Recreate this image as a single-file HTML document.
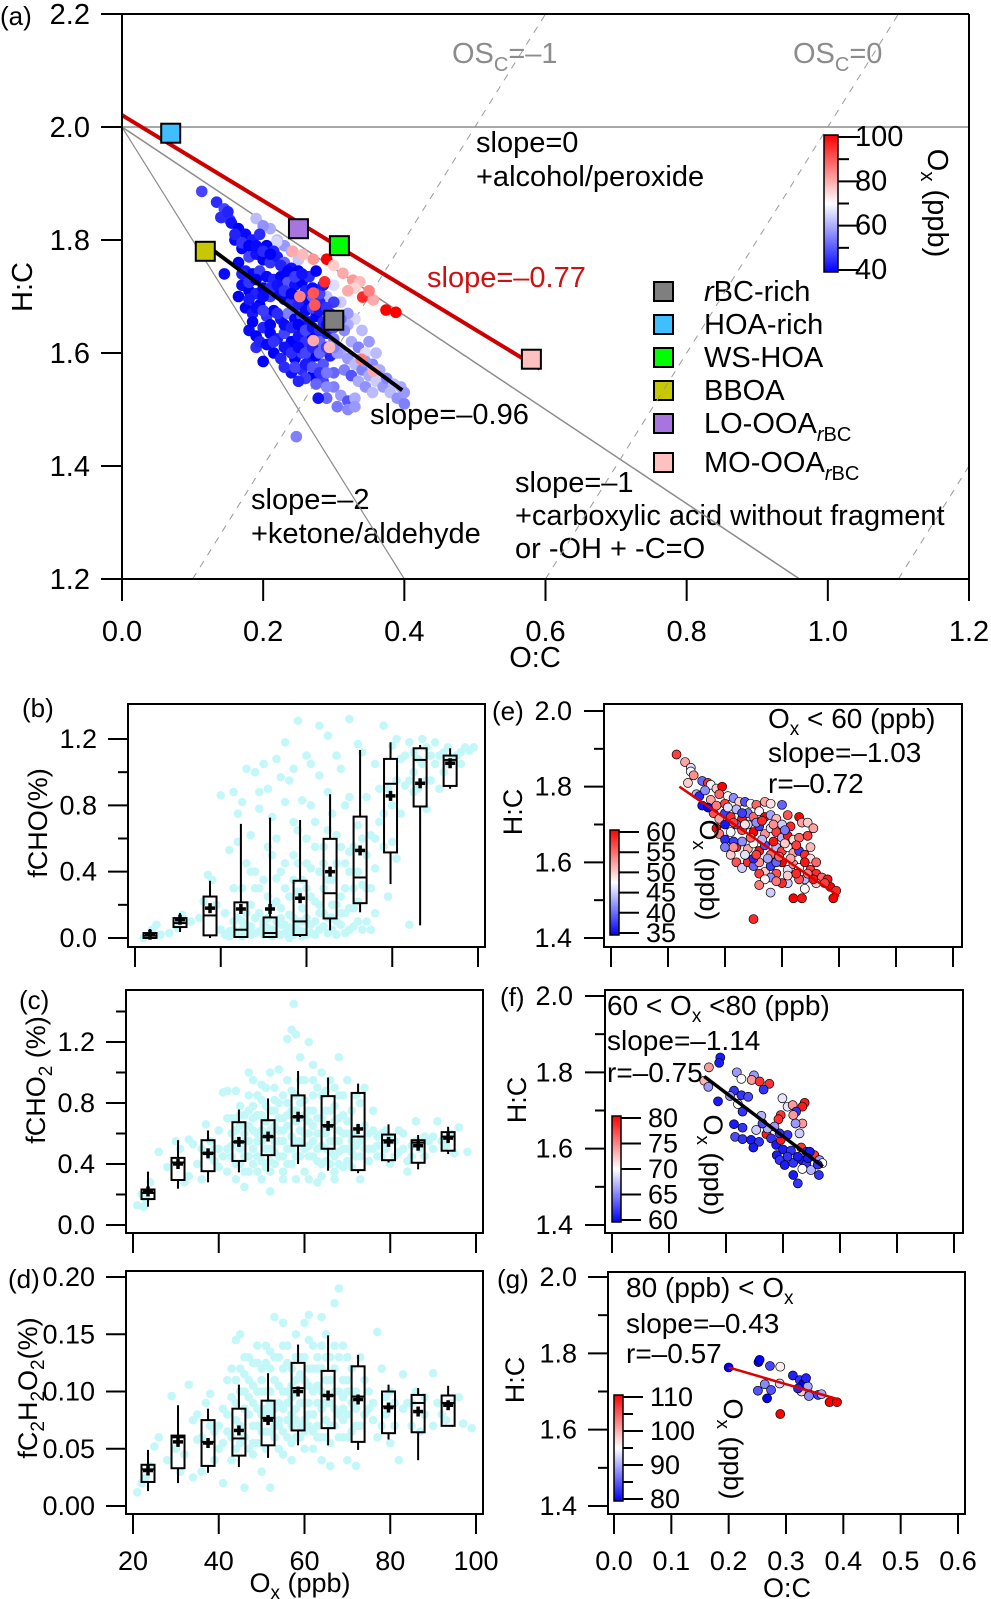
<!DOCTYPE html>
<html><head><meta charset="utf-8"><style>
html,body{margin:0;padding:0;background:#fff;}
svg{display:block;font-family:"Liberation Sans",Arial,sans-serif;}
</style></head><body>
<svg id="fig" xmlns="http://www.w3.org/2000/svg" width="991" height="1599" viewBox="0 0 991 1599">
<defs>
<linearGradient id="cgrad" x1="0" y1="1" x2="0" y2="0">
<stop offset="0" stop-color="#0000ff"/><stop offset="0.5" stop-color="#ffffff"/><stop offset="1" stop-color="#ff0000"/>
</linearGradient>
</defs>
<text x="0" y="25" font-size="26">(a)</text>
<text x="22" y="717" font-size="26">(b)</text>
<text x="19" y="1009" font-size="26">(c)</text>
<text x="8" y="1288" font-size="26">(d)</text>
<text x="492" y="720" font-size="26">(e)</text>
<text x="500" y="1006" font-size="26">(f)</text>
<text x="497" y="1288" font-size="26">(g)</text>

<text x="452" y="63" font-size="29" fill="#8c8c8c">OS<tspan font-size="20" dy="8">C</tspan><tspan dy="-8">=–1</tspan></text>
<text x="793" y="63" font-size="29" fill="#8c8c8c">OS<tspan font-size="20" dy="8">C</tspan><tspan dy="-8">=0</tspan></text>
<text x="476" y="152" font-size="29">slope=0</text>
<text x="476" y="186" font-size="29">+alcohol/peroxide</text>
<text x="427" y="287" font-size="29" fill="#d01010">slope=–0.77</text>
<text x="370" y="424" font-size="29">slope=–0.96</text>
<text x="515" y="492" font-size="29">slope=–1</text>
<text x="515" y="525" font-size="29">+carboxylic acid without fragment</text>
<text x="515" y="558" font-size="29">or -OH + -C=O</text>
<text x="251" y="509" font-size="29">slope=–2</text>
<text x="251" y="543" font-size="29">+ketone/aldehyde</text>
<text x="535" y="667" font-size="29" text-anchor="middle">O:C</text>
<text transform="translate(32,287) rotate(-90)" font-size="29" text-anchor="middle">H:C</text>

<g font-size="29">
<rect x="654" y="282" width="19" height="19" fill="#7f7f7f" stroke="#000" stroke-width="2"/>
<text x="704" y="301"><tspan font-style="italic">r</tspan>BC-rich</text>
<rect x="654" y="315" width="19" height="19" fill="#3fbfff" stroke="#000" stroke-width="2"/>
<text x="704" y="334">HOA-rich</text>
<rect x="654" y="348" width="19" height="19" fill="#00ff00" stroke="#000" stroke-width="2"/>
<text x="704" y="367">WS-HOA</text>
<rect x="654" y="381" width="19" height="19" fill="#c8c800" stroke="#000" stroke-width="2"/>
<text x="704" y="400">BBOA</text>
<rect x="654" y="414" width="19" height="19" fill="#a874e0" stroke="#000" stroke-width="2"/>
<text x="704" y="433">LO-OOA<tspan font-size="20" dy="8"><tspan font-style="italic">r</tspan>BC</tspan></text>
<rect x="654" y="453" width="19" height="19" fill="#ffc0c0" stroke="#000" stroke-width="2"/>
<text x="704" y="472">MO-OOA<tspan font-size="20" dy="8"><tspan font-style="italic">r</tspan>BC</tspan></text>
</g>

<text x="768" y="728" font-size="28">O<tspan font-size="19" dy="7">x</tspan><tspan dy="-7"> &lt; 60 (ppb)</tspan></text>
<text x="768" y="762" font-size="28">slope=–1.03</text>
<text x="768" y="793" font-size="28">r=–0.72</text>
<text x="607" y="1015" font-size="28">60 &lt; O<tspan font-size="19" dy="7">x</tspan><tspan dy="-7"> &lt;80 (ppb)</tspan></text>
<text x="607" y="1050" font-size="28">slope=–1.14</text>
<text x="607" y="1082" font-size="28">r=–0.75</text>
<text x="626" y="1297" font-size="28">80 (ppb) &lt; O<tspan font-size="19" dy="7">x</tspan></text>
<text x="626" y="1333" font-size="28">slope=–0.43</text>
<text x="626" y="1363" font-size="28">r=–0.57</text>

<text transform="translate(47,823) rotate(-90)" font-size="27" text-anchor="middle">fCHO(%)</text>
<text transform="translate(45,1080) rotate(-90)" font-size="27" text-anchor="middle">fCHO<tspan font-size="19" dy="7">2</tspan><tspan dy="-7"> (%)</tspan></text>
<text transform="translate(37,1388) rotate(-90)" font-size="27" text-anchor="middle">fC<tspan font-size="19" dy="7">2</tspan><tspan dy="-7">H</tspan><tspan font-size="19" dy="7">2</tspan><tspan dy="-7">O</tspan><tspan font-size="19" dy="7">2</tspan><tspan dy="-7">(%)</tspan></text>
<text x="300" y="1592" font-size="27" text-anchor="middle">O<tspan font-size="19" dy="7">x</tspan><tspan dy="-7"> (ppb)</tspan></text>
<text transform="translate(522,812) rotate(-90)" font-size="27" text-anchor="middle">H:C</text>
<text transform="translate(526,1100) rotate(-90)" font-size="27" text-anchor="middle">H:C</text>
<text transform="translate(524,1380) rotate(-90)" font-size="27" text-anchor="middle">H:C</text>
<text x="787" y="1597" font-size="27" text-anchor="middle">O:C</text>
</svg>
<script>
const NS='http://www.w3.org/2000/svg';
const svg=document.getElementById('fig');
function mk(tag,attrs,parent){const e=document.createElementNS(NS,tag);for(const k in attrs)e.setAttribute(k,attrs[k]);(parent||svg).appendChild(e);return e;}

// ---------------- DATA ----------------
const aPointsBlue=[[0.113,1.886,48],[0.134,1.867,45],[0.141,1.84,44],[0.153,1.835,46],[0.145,1.855,48],[0.14,1.84,45],[0.15,1.85,44],
[0.155,1.83,42],[0.165,1.82,40],[0.175,1.81,41],[0.185,1.8,43],[0.195,1.81,45],[0.205,1.79,40],[0.215,1.78,44],[0.16,1.8,41],[0.17,1.785,40],[0.18,1.77,48],[0.19,1.775,42],[0.2,1.765,40],[0.21,1.76,46],[0.22,1.77,43],[0.23,1.76,52],[0.24,1.75,42],[0.25,1.745,40],
[0.165,1.76,40],[0.175,1.745,43],[0.185,1.74,40],[0.195,1.745,47],[0.205,1.735,41],[0.215,1.73,44],[0.225,1.735,40],[0.235,1.725,50],[0.245,1.72,42],[0.255,1.725,40],[0.265,1.735,45],[0.275,1.745,40],
[0.17,1.72,41],[0.18,1.71,40],[0.19,1.705,44],[0.2,1.715,40],[0.21,1.7,48],[0.22,1.705,41],[0.23,1.695,40],[0.24,1.69,46],[0.25,1.7,42],[0.26,1.69,40],[0.27,1.7,52],[0.28,1.69,44],
[0.175,1.68,40],[0.185,1.67,43],[0.195,1.685,40],[0.205,1.665,46],[0.215,1.675,40],[0.225,1.66,42],[0.235,1.67,55],[0.245,1.66,40],[0.255,1.665,48],[0.265,1.655,42],[0.275,1.665,40],[0.285,1.655,45],[0.295,1.67,50],
[0.18,1.64,41],[0.19,1.63,40],[0.2,1.645,44],[0.21,1.635,40],[0.22,1.625,43],[0.23,1.635,48],[0.24,1.62,40],[0.25,1.63,42],[0.26,1.62,46],[0.27,1.63,40],[0.28,1.62,52],[0.29,1.635,44],[0.3,1.625,55],
[0.215,1.6,40],[0.225,1.59,44],[0.235,1.605,41],[0.245,1.59,40],[0.255,1.6,47],[0.265,1.585,42],[0.275,1.595,40],[0.285,1.58,50],[0.295,1.595,44],[0.305,1.6,58],
[0.24,1.565,42],[0.255,1.57,45],[0.27,1.56,40],[0.285,1.55,48],[0.3,1.565,52],[0.165,1.7,40],[0.145,1.74,41],[0.2,1.585,40],[0.19,1.61,45],[0.3,1.69,47],[0.31,1.66,53],[0.315,1.64,56],[0.278,1.52,42],[0.247,1.452,55]];
const aPointsBlue2=[[0.16,1.81,44],[0.17,1.795,46],[0.18,1.79,40],[0.19,1.79,41],[0.2,1.78,45],[0.21,1.775,40],[0.225,1.755,44],[0.235,1.745,40],[0.245,1.735,47],[0.255,1.74,42],[0.26,1.71,44],[0.27,1.715,41],[0.28,1.705,48],[0.285,1.72,43],
[0.17,1.74,44],[0.18,1.725,46],[0.19,1.73,40],[0.2,1.7,41],[0.21,1.715,45],[0.22,1.72,42],[0.23,1.71,46],[0.24,1.705,40],[0.25,1.685,44],[0.26,1.675,41],[0.27,1.68,48],[0.28,1.675,42],[0.29,1.68,46],
[0.18,1.695,43],[0.19,1.68,41],[0.2,1.675,47],[0.21,1.65,40],[0.22,1.67,45],[0.23,1.65,41],[0.24,1.645,44],[0.25,1.65,40],[0.26,1.64,48],[0.27,1.645,42],[0.28,1.64,45],[0.29,1.65,41],[0.3,1.645,50],
[0.185,1.655,40],[0.195,1.62,44],[0.205,1.615,41],[0.215,1.62,46],[0.23,1.61,42],[0.24,1.6,45],[0.25,1.61,41],[0.26,1.6,48],[0.27,1.61,44],[0.28,1.6,52],[0.29,1.61,47],[0.3,1.61,55],
[0.23,1.575,45],[0.245,1.575,48],[0.26,1.58,43],[0.27,1.575,50],[0.28,1.565,46],[0.29,1.565,54],[0.26,1.555,47],[0.275,1.545,52],[0.29,1.54,56],[0.25,1.55,44]];
const aPointsLight=[[0.31,1.6,60],[0.32,1.59,58],[0.33,1.58,62],[0.34,1.57,55],[0.35,1.56,60],[0.36,1.55,64],[0.37,1.54,58],[0.38,1.53,62],[0.39,1.52,57],[0.395,1.54,60],[0.4,1.51,55],[0.4,1.53,58],
[0.315,1.57,55],[0.325,1.56,50],[0.335,1.55,60],[0.345,1.54,57],[0.355,1.53,62],[0.3,1.54,55],[0.31,1.525,58],[0.32,1.515,50],[0.33,1.52,60],[0.29,1.52,52],[0.305,1.505,54],[0.32,1.5,56],[0.33,1.505,58],
[0.34,1.64,62],[0.33,1.66,65],[0.32,1.67,58],[0.325,1.62,60],[0.335,1.61,55],[0.345,1.6,66],[0.35,1.62,58],[0.36,1.6,62],[0.355,1.58,56],[0.29,1.7,62],[0.3,1.72,66],
[0.22,1.8,62],[0.23,1.79,58],[0.21,1.82,60],[0.19,1.838,62],[0.2,1.825,57],[0.219,1.797,65],[0.365,1.57,60],[0.375,1.555,56],[0.385,1.545,62],[0.345,1.585,58],[0.31,1.69,64],[0.32,1.65,60],[0.24,1.78,60],[0.25,1.765,63]];
const aPointsRed=[[0.242,1.78,80],[0.256,1.774,78],[0.271,1.766,82],[0.29,1.766,100],[0.313,1.741,80],[0.327,1.729,82],[0.337,1.726,78],[0.341,1.699,95],[0.356,1.694,80],[0.374,1.676,100],[0.388,1.672,100],
[0.271,1.706,90],[0.287,1.726,95],[0.273,1.685,90],[0.252,1.70,85],[0.271,1.622,80],[0.294,1.61,78],[0.339,1.589,85],[0.356,1.568,80],[0.33,1.715,75],[0.35,1.71,85],[0.3,1.755,76],[0.32,1.71,80]];
const factorNames=['HOA-rich','LO-OOA','WS-HOA','BBOA','rBC-rich','MO-OOA'];
const factorOC=[0.069,0.25,0.308,0.118,0.30,0.58];
const factorHC=[1.989,1.82,1.79,1.78,1.658,1.589];
const factorColors=['#3fbfff','#a874e0','#00ff00','#c8c800','#7f7f7f','#ffc0c0'];
const aRedFit=[0,2.021,0.592,1.572];
const aBlackFit=[0.118,1.792,0.397,1.534];

const binOx=[23.5,30.5,37.5,44.7,51.5,58.5,65.5,72.5,79.6,86.5,93.5];
const bQ1=[0,0.066,0.016,0.006,0.006,0.018,0.118,0.21,0.516,0.793,0.917];
const bQ3=[0.03,0.12,0.25,0.215,0.124,0.345,0.598,0.732,1.08,1.144,1.10];
const bMed=[0.014,0.09,0.136,0.05,0.03,0.10,0.27,0.365,0.93,1.074,1.074];
const bMean=[0.02,0.11,0.18,0.175,0.175,0.24,0.40,0.528,0.857,0.933,1.054];
const bLo=[0,0.036,0,0,0,0.006,0.046,0.155,0.325,0.076,0.90];
const bHi=[0.054,0.15,0.345,0.688,0.726,0.712,0.867,1.134,1.18,1.164,1.144];
const cQ1=[0.17,0.295,0.353,0.42,0.458,0.52,0.50,0.36,0.425,0.408,0.487];
const cQ3=[0.233,0.44,0.556,0.674,0.687,0.85,0.845,0.866,0.593,0.556,0.609];
const cMed=[0.21,0.41,0.47,0.545,0.58,0.71,0.655,0.58,0.556,0.54,0.58];
const cMean=[0.22,0.40,0.47,0.545,0.58,0.71,0.65,0.63,0.545,0.52,0.57];
const cLo=[0.12,0.238,0.28,0.345,0.35,0.40,0.356,0.34,0.41,0.365,0.465];
const cHi=[0.35,0.556,0.62,0.757,0.83,1.01,0.967,0.927,0.66,0.59,0.644];
const dQ1=[0.021,0.033,0.035,0.044,0.053,0.066,0.068,0.056,0.0636,0.0644,0.070];
const dQ3=[0.036,0.0615,0.075,0.085,0.092,0.125,0.118,0.122,0.10,0.097,0.0965];
const dMed=[0.032,0.06,0.056,0.059,0.077,0.103,0.0965,0.0956,0.087,0.090,0.090];
const dMean=[0.031,0.056,0.055,0.066,0.075,0.10,0.0965,0.093,0.086,0.0825,0.088];
const dLo=[0.013,0.02,0.029,0.034,0.042,0.053,0.053,0.049,0.058,0.040,0.07];
const dHi=[0.049,0.088,0.085,0.106,0.116,0.141,0.149,0.132,0.106,0.103,0.105];

const bScatter=[[22,0.0],[24,0.05],[25,0.08],[26,0.02],[28,0.03],[30,0.06],[31,0.14],[33,0.1],[35,0.12],[36,0.22],[37,0.38],[38,0.35],[39,0.2],[40,0.05],[40,0.86],[41,0.15],[42,0.53],[43,0.88],[43,0.3],[44,0.75],[44,0.58],[45,0.82],[45,0.1],[46,1.02],[46,0.45],[47,0.62],[47,0.02],[48,1.0],[48,0.3],[49,0.78],[49,0.88],[50,1.05],[50,0.1],[51,0.9],[51,0.55],[52,0.73],[52,0.2],[53,1.08],[53,0.36],[54,0.97],[54,0.02],[55,1.18],[55,0.82],[55,0.45],[56,0.95],[56,0.06],[57,1.02],[57,0.7],[58,1.31],[58,0.28],[59,0.83],[59,0.01],[60,1.1],[60,0.6],[61,1.05],[61,0.42],[62,0.7],[62,0.02],[63,1.28],[63,0.98],[64,0.55],[64,0.15],[65,1.22],[65,0.88],[66,0.35],[66,0.05],[67,1.1],[67,0.62],[68,1.02],[68,0.25],[69,0.8],[69,0.45],[70,1.32],[70,0.52],[71,0.18],[72,1.17],[72,0.68],[73,1.12],[73,0.32],[74,0.85],[74,0.1],[75,0.62],[76,1.05],[76,0.42],[77,0.9],[78,1.28],[78,0.75],[79,0.25],[80,1.16],[80,0.58],[81,1.2],[81,0.48],[82,1.08],[83,0.92],[84,1.18],[84,0.08],[85,1.0],[85,0.88],[86,1.08],[87,1.2],[88,0.95],[88,0.78],[89,1.1],[90,1.18],[91,0.9],[92,1.12],[93,1.05],[95,1.1],[96,1.12],[98,1.13],[99,1.15],
[41,0.02],[43,0.05],[44,0.12],[45,0.01],[46,0.08],[47,0.2],[48,0.03],[49,0.15],[50,0.02],[51,0.06],[52,0.01],[53,0.1],[54,0.18],[55,0.03],[56,0.25],[57,0.02],[57,0.12],[58,0.05],[59,0.18],[60,0.02],[60,0.3],[61,0.08],[62,0.22],[63,0.05],[64,0.3],[65,0.12],[66,0.2],[67,0.02],[68,0.08],[69,0.15],[70,0.05],[71,0.3],[72,0.1],[75,0.05],[48,0.4],[52,0.5],[58,0.65],[62,0.55],[66,0.75],[70,0.85],[42,0.01],[50,0.04],[54,0.08],[59,0.1],[63,0.15],[67,0.2],[44,0.03],[56,0.0]];
const bScatter2=[[42,0.04],[43,0.1],[45,0.05],[46,0.15],[47,0.07],[48,0.12],[49,0.04],[50,0.08],[51,0.12],[52,0.05],[53,0.03],[54,0.12],[55,0.08],[56,0.14],[57,0.06],[58,0.1],[59,0.04],[60,0.12],[61,0.03],[62,0.1],[63,0.2],[64,0.07],[65,0.03],[66,0.12],[67,0.1],[68,0.15],[69,0.03],[70,0.18],[71,0.07],[72,0.22],[73,0.05],[74,0.3],[76,0.15],
[45,0.3],[47,0.4],[49,0.3],[50,0.35],[51,0.25],[53,0.22],[54,0.4],[55,0.3],[57,0.35],[58,0.45],[59,0.35],[60,0.45],[61,0.25],[63,0.4],[64,0.45],[65,0.35],[67,0.45],[68,0.55],[69,0.3],[70,0.4],[71,0.55],[72,0.4],[73,0.6],[74,0.5],[75,0.3],[76,0.6],[77,0.7],[78,0.55],[79,0.9],[80,0.8],[81,0.95],[82,0.75],[83,1.1],[84,0.95],[86,0.9],[87,1.05],[89,0.95],[90,1.05],[91,1.1],[93,1.15],[94,1.08],[96,1.05],[97,1.15],[92,1.0],[85,1.12],[88,1.15],[57,0.5],[53,0.6],[61,0.8],[65,0.65]];
const cScatter=[[21,0.13],[22,0.2],[23,0.17],[22.5,0.12],[24,0.28],[26,0.48],[28,0.38],[30,0.55],[31,0.5],[32,0.28],[33,0.56],[34,0.53],[33,0.32],[35,0.4],[36,0.3],[37,0.66],[38,0.55],[39,0.5],[40,0.62],[40,0.38],[41,0.87],[42,0.88],[43,0.7],[43,0.45],[44,0.88],[44,0.3],[45,0.78],[46,0.55],[46,0.25],[47,0.65],[47,1.0],[48,0.95],[48,0.4],[49,0.6],[49,0.85],[50,0.72],[50,0.3],[51,0.9],[51,0.5],[52,0.22],[52,1.0],[53,0.65],[53,0.4],[54,0.8],[54,1.02],[55,0.55],[55,0.3],[56,0.95],[56,1.22],[57,1.28],[57.5,1.45],[58,1.25],[57,0.4],[58,0.85],[59,1.1],[59,0.55],[60,0.95],[60,0.35],[61,1.2],[61,0.75],[62,1.05],[62,0.45],[63,0.9],[63,0.28],[64,0.85],[64,1.0],[65,0.6],[66,0.95],[66,0.4],[67,0.78],[67,0.3],[68,1.1],[68,0.55],[69,0.85],[69,0.38],[70,0.95],[70,0.68],[71,0.48],[72,0.6],[73,0.3],[73,0.8],[74,0.9],[75,0.5],[75,0.42],[76,0.75],[77,0.58],[78,0.52],[78,0.45],[79,0.62],[80,0.4],[81,0.55],[82,0.48],[83,0.6],[84,0.42],[84,0.35],[85,0.52],[86,0.68],[88,0.45],[88,0.58],[90,0.5],[91,0.68],[92,0.55],[94,0.6],[95,0.47],[96,0.64],[98,0.48],
[42,0.5],[43,0.6],[44,0.55],[45,0.4],[45,0.65],[46,0.45],[46,0.72],[47,0.35],[47,0.55],[48,0.62],[48,0.78],[49,0.45],[50,0.55],[50,0.82],[51,0.38],[51,0.68],[52,0.5],[52,0.75],[53,0.55],[53,0.9],[54,0.45],[54,0.62],[55,0.7],[55,0.85],[56,0.5],[56,0.65],[57,0.58],[57,0.75],[58,0.45],[58,0.68],[59,0.62],[59,0.8],[60,0.5],[60,0.72],[61,0.45],[61,0.6],[62,0.65],[62,0.85],[63,0.5],[63,0.7],[64,0.4],[64,0.6],[65,0.75],[65,0.5],[66,0.65],[66,0.55],[67,0.45],[67,0.9],[68,0.7],[68,0.4],[69,0.6],[70,0.5],[71,0.75],[71,0.38],[72,0.45],[72,0.85],[73,0.55],[74,0.65],[76,0.62],[77,0.45],[79,0.5],[80,0.58],[82,0.62],[85,0.45],[87,0.5],[89,0.55],
[44,0.7],[47,0.85],[50,0.92],[53,0.75],[56,0.8],[59,0.95],[62,0.95],[65,0.88],[68,0.85],[71,0.6],[49,0.35],[55,0.35],[61,0.3],[67,0.35],[58,0.3],[64,0.32],[52,0.35]];
const cScatter2=[[41,0.45],[42,0.35],[42,0.7],[43,0.52],[44,0.4],[44,0.62],[45,0.5],[45,0.72],[46,0.35],[46,0.6],[47,0.45],[47,0.75],[48,0.5],[48,0.7],[49,0.55],[49,0.72],[50,0.42],[50,0.62],[51,0.58],[51,0.78],[52,0.42],[52,0.62],[53,0.48],[53,0.82],[54,0.55],[54,0.7],[55,0.45],[55,0.62],[56,0.4],[56,0.72],[57,0.5],[57,0.88],[58,0.55],[58,0.75],[59,0.45],[59,0.7],[60,0.6],[60,0.82],[61,0.52],[61,0.68],[62,0.55],[62,0.75],[63,0.42],[63,0.6],[64,0.52],[64,0.7],[65,0.42],[65,0.65],[66,0.48],[66,0.75],[67,0.55],[67,0.68],[68,0.48],[68,0.62],[69,0.5],[69,0.72],[70,0.42],[70,0.6],[71,0.55],[72,0.52],[73,0.45],[74,0.5],[75,0.6],[76,0.5],[77,0.52],[78,0.6],[81,0.45],[83,0.5],[86,0.55],[90,0.58],[93,0.52],[40,0.5],[39,0.42],[38,0.45],[36,0.5]];
const dScatter=[[21,0.012],[22,0.02],[23,0.025],[24,0.035],[25,0.052],[26,0.06],[29,0.096],[31,0.03],[32,0.045],[33,0.106],[34,0.025],[34,0.075],[35,0.058],[36,0.03],[37,0.09],[38,0.098],[39,0.065],[39,0.04],[40,0.05],[41,0.085],[41,0.02],[42,0.11],[42,0.065],[43,0.12],[43,0.04],[44,0.145],[44,0.075],[45,0.15],[45,0.055],[46,0.13],[46,0.016],[47,0.08],[47,0.11],[48,0.125],[48,0.045],[49,0.14],[49,0.07],[50,0.1],[50,0.03],[51,0.14],[51,0.085],[52,0.016],[52,0.12],[53,0.165],[53,0.06],[54,0.13],[54,0.09],[55,0.16],[55,0.045],[56,0.14],[56,0.075],[57,0.12],[57,0.04],[58,0.15],[58,0.085],[59,0.13],[59,0.06],[60,0.16],[60,0.11],[61,0.167],[61,0.07],[62,0.14],[62,0.05],[63,0.12],[63,0.09],[64,0.165],[64,0.04],[65,0.15],[65,0.075],[66,0.13],[66,0.035],[67,0.177],[67,0.1],[68,0.19],[68,0.06],[69,0.14],[69,0.085],[70,0.13],[70,0.04],[71,0.12],[71,0.065],[72,0.1],[72,0.035],[73,0.13],[74,0.11],[75,0.085],[76,0.075],[77,0.152],[77,0.06],[78,0.12],[79,0.08],[80,0.1],[80,0.055],[81,0.07],[82,0.04],[83,0.115],[84,0.09],[85,0.07],[86,0.1],[87,0.065],[88,0.095],[90,0.116],[90,0.07],[92,0.08],[94,0.09],[96,0.095],[97,0.072],[99,0.068],
[44,0.09],[45,0.1],[46,0.06],[47,0.095],[48,0.07],[49,0.1],[50,0.065],[50,0.12],[51,0.05],[52,0.08],[52,0.1],[53,0.07],[53,0.11],[54,0.05],[55,0.1],[55,0.12],[56,0.06],[56,0.1],[57,0.08],[57,0.105],[58,0.06],[58,0.11],[59,0.09],[60,0.075],[60,0.13],[61,0.09],[61,0.12],[62,0.08],[62,0.1],[63,0.07],[64,0.1],[64,0.12],[65,0.06],[65,0.11],[66,0.09],[67,0.07],[67,0.12],[68,0.1],[69,0.11],[70,0.08],[71,0.09],[72,0.07],
[46,0.115],[49,0.125],[52,0.135],[55,0.14],[58,0.13],[61,0.145],[64,0.14],[67,0.14],[70,0.11],[48,0.055],[51,0.065],[54,0.07],[57,0.055],[60,0.05],[63,0.06],[66,0.055],[69,0.06]];
const dScatter2=[[40,0.07],[41,0.055],[42,0.08],[43,0.095],[43,0.06],[44,0.05],[44,0.11],[45,0.07],[45,0.12],[46,0.085],[46,0.1],[47,0.05],[47,0.13],[48,0.09],[48,0.105],[49,0.055],[49,0.085],[50,0.08],[50,0.11],[51,0.1],[51,0.125],[52,0.065],[52,0.09],[53,0.085],[53,0.13],[54,0.105],[54,0.075],[55,0.065],[55,0.085],[56,0.09],[56,0.125],[57,0.07],[57,0.095],[58,0.1],[58,0.075],[59,0.07],[59,0.115],[60,0.09],[60,0.065],[61,0.105],[61,0.08],[62,0.065],[62,0.12],[63,0.105],[63,0.13],[64,0.085],[64,0.06],[65,0.09],[65,0.13],[66,0.07],[66,0.11],[67,0.085],[68,0.08],[68,0.13],[69,0.075],[69,0.095],[70,0.1],[70,0.06],[71,0.1],[72,0.085],[73,0.07],[74,0.08],[75,0.1],[76,0.09],[78,0.07],[79,0.095],[81,0.09],[83,0.085],[85,0.09],[88,0.08],[91,0.09],[93,0.075],[38,0.07],[36,0.06],[35,0.08],[30,0.05],[28,0.04]];

const ePoints=[[0.115,1.885,57],[0.13,1.865,52],[0.14,1.85,46],[0.14,1.84,47],[0.145,1.83,53],[0.135,1.81,50],[0.16,1.815,40],[0.17,1.81,58],[0.175,1.805,47],[0.15,1.78,44],[0.155,1.775,37],[0.165,1.79,42],[0.185,1.795,50],[0.195,1.8,60],[0.19,1.78,55],[0.205,1.775,48],[0.215,1.77,42],[0.16,1.75,36],[0.175,1.765,52],[0.2,1.755,57],[0.225,1.76,50],[0.235,1.76,39],[0.245,1.755,47],[0.255,1.752,55],[0.27,1.76,52],[0.28,1.755,49],[0.3,1.752,40],[0.31,1.725,56],[0.33,1.72,60],[0.335,1.705,52],[0.345,1.705,50],
[0.18,1.73,56],[0.19,1.715,52],[0.2,1.73,38],[0.21,1.72,58],[0.22,1.74,44],[0.23,1.715,59],[0.24,1.73,41],[0.25,1.72,55],[0.26,1.735,47],[0.27,1.72,60],[0.28,1.725,43],[0.29,1.715,51],[0.3,1.7,45],[0.315,1.695,58],
[0.185,1.69,60],[0.19,1.675,54],[0.2,1.66,37],[0.21,1.68,47],[0.22,1.7,40],[0.23,1.685,56],[0.24,1.7,45],[0.25,1.68,60],[0.26,1.695,38],[0.27,1.675,53],[0.28,1.69,46],[0.29,1.68,57],[0.3,1.665,44],[0.31,1.67,59],[0.32,1.66,49],[0.33,1.665,55],
[0.2,1.64,41],[0.21,1.62,50],[0.22,1.64,58],[0.23,1.655,42],[0.24,1.635,52],[0.25,1.65,48],[0.26,1.63,59],[0.27,1.645,39],[0.28,1.62,55],[0.29,1.64,44],[0.3,1.63,57],[0.31,1.64,47],[0.32,1.625,52],[0.33,1.63,38],[0.34,1.62,58],[0.35,1.61,49],
[0.22,1.6,56],[0.23,1.585,45],[0.24,1.6,58],[0.25,1.59,40],[0.26,1.6,53],[0.27,1.575,50],[0.28,1.59,38],[0.29,1.57,56],[0.3,1.6,60],[0.31,1.58,46],[0.32,1.595,53],[0.33,1.585,48],[0.34,1.6,59],[0.35,1.58,57],[0.36,1.57,58],[0.37,1.56,55],[0.38,1.555,59],[0.385,1.535,60],[0.395,1.525,58],[0.39,1.505,60],[0.375,1.545,57],[0.36,1.545,50],[0.34,1.555,44],[0.33,1.555,56],[0.31,1.545,45],[0.3,1.545,58],[0.28,1.56,42],[0.26,1.57,57],[0.27,1.555,48],[0.32,1.505,60],[0.335,1.505,59],[0.34,1.53,48],[0.28,1.52,45],[0.25,1.45,58],[0.26,1.54,54],[0.35,1.64,51],[0.36,1.6,55],[0.345,1.67,57],[0.355,1.69,52],[0.2,1.7,36],[0.23,1.73,38],[0.17,1.745,35],[0.215,1.655,38],[0.25,1.61,37],[0.29,1.6,40],
[0.185,1.75,54],[0.205,1.745,46],[0.215,1.705,57],[0.235,1.7,49],[0.255,1.705,42],[0.265,1.71,58],[0.285,1.7,53],[0.305,1.685,41],[0.245,1.665,55],[0.265,1.66,44],[0.285,1.655,59],[0.305,1.65,50],[0.325,1.645,57],[0.215,1.64,53],[0.235,1.62,46],[0.255,1.62,57],[0.275,1.61,43],[0.295,1.615,55],[0.315,1.61,52],[0.325,1.57,58],[0.345,1.57,54],[0.355,1.555,59],[0.29,1.55,54],[0.31,1.565,50]];
const eFit=[0.12,1.80,0.40,1.51];
const fPoints=[[0.17,1.813,74],[0.19,1.839,61],[0.188,1.825,61],[0.162,1.778,73],[0.169,1.762,66],[0.219,1.80,66],[0.227,1.783,70],[0.249,1.792,66],[0.245,1.78,74],[0.259,1.776,78],[0.276,1.77,78],[0.266,1.755,62],[0.214,1.752,62],[0.227,1.74,62],[0.239,1.736,63],[0.207,1.738,66],[0.186,1.724,61],[0.221,1.717,70],[0.229,1.697,62],[0.262,1.686,67],[0.299,1.732,69],[0.308,1.71,69],[0.317,1.714,74],[0.338,1.72,79],[0.334,1.71,79],[0.323,1.697,62],[0.318,1.688,74],[0.296,1.688,78],[0.292,1.677,78],[0.334,1.666,74],[0.322,1.666,66],[0.214,1.664,61],[0.229,1.655,62],[0.216,1.631,63],[0.229,1.625,62],[0.244,1.623,61],[0.258,1.618,62],[0.248,1.603,61],[0.271,1.638,79],[0.279,1.627,62],[0.288,1.61,61],[0.296,1.623,79],[0.308,1.636,62],[0.30,1.598,61],[0.314,1.595,62],[0.332,1.603,78],[0.341,1.592,61],[0.355,1.583,78],[0.364,1.57,66],[0.369,1.562,70],[0.289,1.583,61],[0.294,1.57,62],[0.303,1.557,61],[0.318,1.563,62],[0.334,1.569,61],[0.341,1.56,62],[0.349,1.544,67],[0.363,1.531,62],[0.318,1.531,61],[0.326,1.509,62],[0.334,1.547,70],[0.285,1.658,66],[0.273,1.653,67],[0.253,1.649,68],[0.264,1.666,63],[0.294,1.64,62],[0.329,1.64,68],[0.347,1.592,61],[0.361,1.558,62],[0.344,1.575,61],[0.308,1.579,62],[0.326,1.579,61]];
const fFit=[0.162,1.789,0.37,1.553];
const gPoints=[[0.20,1.763,80],[0.252,1.777,80],[0.254,1.783,80],[0.272,1.767,84],[0.29,1.765,96],[0.312,1.742,82],[0.324,1.73,83],[0.333,1.726,82],[0.33,1.72,80],[0.338,1.713,90],[0.263,1.719,88],[0.251,1.702,85],[0.274,1.704,85],[0.267,1.682,80],[0.289,1.721,93],[0.327,1.70,98],[0.341,1.693,99],[0.34,1.688,88],[0.356,1.691,84],[0.362,1.693,90],[0.376,1.672,110],[0.389,1.672,110],[0.29,1.641,110],[0.321,1.708,82],[0.335,1.735,82]];
const gFit=[0.20,1.763,0.39,1.68];

const aXTicks=['0.0','0.2','0.4','0.6','0.8','1.0','1.2'];
const aYTicks=['1.2','1.4','1.6','1.8','2.0','2.2'];
const bYTicks=['0.0','0.4','0.8','1.2'];
const cYTicks=['0.0','0.4','0.8','1.2'];
const dYTicks=['0.00','0.05','0.10','0.15','0.20'];
const oxTicks=['20','40','60','80','100'];
const hcTicks=['1.4','1.6','1.8','2.0'];
const ocTicks=['0.0','0.1','0.2','0.3','0.4','0.5','0.6'];
const aCbarTicks=['40','60','80','100'];
const eCbarTicks=['35','40','45','50','55','60'];
const fCbarTicks=['60','65','70','75','80'];
const gCbarTicks=['80','90','100','110'];

// ---------------- helpers ----------------
function lin(d0,d1,p0,p1){return v=>p0+(v-d0)*(p1-p0)/(d1-d0);}
function cmap(v,lo,hi){let t=Math.max(0,Math.min(1,(v-lo)/(hi-lo)));let r,g,b;
 if(t<0.5){const s=t/0.5;r=Math.round(255*s);g=r;b=255;}else{const s=(t-0.5)/0.5;r=255;g=Math.round(255*(1-s));b=g;}
 return `rgb(${r},${g},${b})`;}
function line(x1,y1,x2,y2,st,w,name,dash){const e=mk('line',{x1,y1,x2,y2,stroke:st,'stroke-width':w});if(dash)e.setAttribute('stroke-dasharray',dash);
 
 
 return e;}
function txt(x,y,s,size,anchor,name){const e=mk('text',{x,y,'font-size':size,'text-anchor':anchor});e.textContent=s;
 
 
 return e;}
function frame(x0,y0,x1,y1,name){const e=mk('rect',{x:x0,y:y0,width:x1-x0,height:y1-y0,fill:'none',stroke:'#000','stroke-width':2});
 
 }

// ---------------- PANEL A ----------------
const xA=lin(0,1.2,122,969), yA=lin(1.2,2.2,579,14);
line(xA(0),yA(2.0),xA(1.2),yA(2.0),'#8c8c8c',1.5,'slope-0-line');
line(xA(0),yA(2.0),xA(0.96),yA(1.2),'#8c8c8c',1.5,'slope-minus1-line');
line(xA(0),yA(2.0),xA(0.4),yA(1.2),'#8c8c8c',1.2,'slope-minus2-line');
line(xA(0.1),yA(1.2),xA(0.6),yA(2.2),'#9a9a9a',1,'osc-minus1-dashed-line','7,7');
line(xA(0.6),yA(1.2),xA(1.1),yA(2.2),'#9a9a9a',1,'osc-0-dashed-line','7,7');
line(xA(1.1),yA(1.2),xA(1.2),yA(1.4),'#9a9a9a',1,'osc-1-dashed-line','7,7');
[aPointsLight,aPointsBlue,aPointsBlue2,aPointsRed].forEach(arr=>arr.forEach(p=>{
 const c=mk('circle',{cx:xA(p[0]),cy:yA(p[1]),r:5.8,fill:cmap(p[2],40,100)});
 
 
}));
line(xA(aRedFit[0]),yA(aRedFit[1]),xA(aRedFit[2]),yA(aRedFit[3]),'#cc0000',4,'fit-line-red');
line(xA(aBlackFit[0]),yA(aBlackFit[1]),xA(aBlackFit[2]),yA(aBlackFit[3]),'#000',4,'fit-line-black');
factorOC.forEach((oc,i)=>{const r=mk('rect',{x:xA(oc)-9.5,y:yA(factorHC[i])-9.5,width:19,height:19,fill:factorColors[i],stroke:'#000','stroke-width':2});
 
 });
line(122,14,969,14,'#000',2,'a-top-border');
line(969,14,969,579,'#000',2,'a-right-border');
line(122,14,122,579,'#000',2,'a-y-axis');
line(122,579,969,579,'#000',2,'a-x-axis');
aXTicks.forEach(t=>{const x=xA(+t);line(x,579,x,601,'#000',2,'a-x-tick');txt(x,641,t,29,'middle','a-x-tick-label');});
aYTicks.forEach(t=>{const y=yA(+t);line(101,y,122,y,'#000',2,'a-y-tick');txt(90,y+10,t,29,'end','a-y-tick-label');});
function cbar(x0,x1,y0,y1,lo,hi,ticks,minor,fs,name,tickLen,lblX){
 const r=mk('rect',{x:x0,y:y0,width:x1-x0,height:y1-y0,fill:'url(#cgrad)',stroke:'#000','stroke-width':1.5});
 
 
 const ys=lin(lo,hi,y1-2,y0+2);
 ticks.forEach(t=>{const y=ys(+t);line(x1,y,x1+tickLen,y,'#000',2,name+'-tick');txt(lblX,y+9,t,fs,'start',name+'-label');});
 minor.forEach(t=>{const y=ys(t);line(x1,y,x1+tickLen*0.5,y,'#000',2,name+'-minor-tick');});
}
cbar(824,838,135,272,40,100,aCbarTicks,[50,70,90],29,'a-colorbar',22,855);
function oxTitle(cx,cy,fs,name){const e=mk('text',{transform:`translate(${cx},${cy}) rotate(90)`,'font-size':fs,'text-anchor':'middle'});
 e.innerHTML='O<tspan font-size="'+(fs*0.7)+'" dy="7">x</tspan><tspan dy="-7"> (ppb)</tspan>';
 
 }
oxTitle(928,203,29,'a-colorbar-title');

// ---------------- PANELS B,C,D ----------------
function boxPanel(P){
 const xs=lin(20,100,P.x20,P.x100), ys=lin(P.v0,P.v1,P.y0,P.y1);
 P.scatter.forEach(p=>{const c=mk('circle',{cx:xs(p[0]),cy:ys(p[1]),r:4.3,fill:'#c4f8f8'});
  
  });
 binOx.forEach((ox,i)=>{const x=xs(ox),hw=6.5;
  line(x,ys(P.hi[i]),x,ys(P.q3[i]),'#000',2,'whisker-upper');
  line(x,ys(P.q1[i]),x,ys(P.lo[i]),'#000',2,'whisker-lower');
  const b=mk('rect',{x:x-hw,y:ys(P.q3[i]),width:2*hw,height:Math.max(1,ys(P.q1[i])-ys(P.q3[i])),fill:'none',stroke:'#000','stroke-width':2});
  
  
  line(x-hw,ys(P.med[i]),x+hw,ys(P.med[i]),'#000',2,'median-line');
  const my=ys(P.mean[i]);
  line(x-5,my,x+5,my,'#000',3.5,'mean-marker');
  line(x,my-5,x,my+5,'#000',3.5,'mean-marker');
 });
 frame(P.bx0,P.by0,P.bx1,P.by1,P.name+'-frame');
 oxTicks.forEach(t=>{const x=xs(+t);line(x,P.by1,x,P.by1+20,'#000',2,P.name+'-x-tick');
  if(P.xlabels)txt(x,1570,t,27,'middle',P.name+'-x-tick-label');});
 P.yticks.forEach(t=>{const y=ys(+t);line(P.bx0-20,y,P.bx0,y,'#000',2,P.name+'-y-tick');txt(P.lblX,y+9,t,27,'end',P.name+'-y-tick-label');});
 P.minor.forEach(v=>{const y=ys(v);line(P.bx0-10,y,P.bx0,y,'#000',2,P.name+'-y-minor-tick');});
}
boxPanel({name:'b',x20:135,x100:478,v0:0,v1:1.2,y0:938,y1:739,bx0:128,bx1:485,by0:704,by1:947,scatter:bScatter.concat(bScatter2),q1:bQ1,q3:bQ3,med:bMed,mean:bMean,lo:bLo,hi:bHi,yticks:bYTicks,minor:[0.2,0.6,1.0],lblX:97,xlabels:false});
boxPanel({name:'c',x20:133,x100:476,v0:0,v1:1.2,y0:1225,y1:1042,bx0:126,bx1:483,by0:990,by1:1233,scatter:cScatter.concat(cScatter2),q1:cQ1,q3:cQ3,med:cMed,mean:cMean,lo:cLo,hi:cHi,yticks:cYTicks,minor:[0.2,0.6,1.0,1.4],lblX:95,xlabels:false});
boxPanel({name:'d',x20:133,x100:476,v0:0,v1:0.2,y0:1506,y1:1277,bx0:126,bx1:483,by0:1271,by1:1514,scatter:dScatter.concat(dScatter2),q1:dQ1,q3:dQ3,med:dMed,mean:dMean,lo:dLo,hi:dHi,yticks:dYTicks,minor:[],lblX:95,xlabels:true});

// ---------------- PANELS E,F,G ----------------
function vkPanel(P){
 const xs=lin(0,0.6,P.x0,P.x6), ys=lin(1.4,2.0,P.y14,P.y20);
 P.points.forEach(p=>{const c=mk('circle',{cx:xs(p[0]),cy:ys(p[1]),r:4.5,fill:cmap(p[2],P.lo,P.hi),stroke:'#000','stroke-width':0.7});
  
  });
 line(xs(P.fit[0]),ys(P.fit[1]),xs(P.fit[2]),ys(P.fit[3]),P.fitColor,P.fitW,P.name+'-fit-line');
 frame(P.bx0,P.by0,P.bx1,P.by1,P.name+'-frame');
 ocTicks.forEach(t=>{const x=xs(+t);line(x,P.by1,x,P.by1+20,'#000',2,P.name+'-x-tick');
  if(P.xlabels)txt(x,1570,t,27,'middle',P.name+'-x-tick-label');});
 hcTicks.forEach(t=>{const y=ys(+t);line(P.bx0-20,y,P.bx0,y,'#000',2,P.name+'-y-tick');txt(P.lblX,y+9,t,27,'end',P.name+'-y-tick-label');});
 [1.5,1.7,1.9].forEach(v=>{const y=ys(v);line(P.bx0-10,y,P.bx0,y,'#000',2,P.name+'-y-minor-tick');});
 cbar(P.cb[0],P.cb[1],P.cb[2],P.cb[3],P.lo,P.hi,P.cbt,P.cbm,27,P.name+'-colorbar',20,P.cb[1]+27);
 oxTitle(P.tx,P.ty,27,P.name+'-colorbar-title');
}
vkPanel({name:'e',x0:611,x6:953,y14:938,y20:711,bx0:604,bx1:962,by0:704,by1:947,points:ePoints,lo:35,hi:60,fit:eFit,fitColor:'#dd0000',fitW:2.5,xlabels:false,lblX:572,cb:[610,619,830,935],cbt:eCbarTicks,cbm:[],tx:700,ty:870});
vkPanel({name:'f',x0:612,x6:954,y14:1225,y20:996,bx0:605,bx1:963,by0:990,by1:1233,points:fPoints,lo:60,hi:80,fit:fFit,fitColor:'#000',fitW:3.5,xlabels:false,lblX:573,cb:[612,621,1116,1222],cbt:fCbarTicks,cbm:[],tx:704,ty:1165});
vkPanel({name:'g',x0:614,x6:958,y14:1506,y20:1277,bx0:608,bx1:965,by0:1272,by1:1514,points:gPoints,lo:80,hi:110,fit:gFit,fitColor:'#dd0000',fitW:2.5,xlabels:true,lblX:577,cb:[614,623,1395,1501],cbt:gCbarTicks,cbm:[85,95,105],tx:724,ty:1449});
</script>
</body></html>
